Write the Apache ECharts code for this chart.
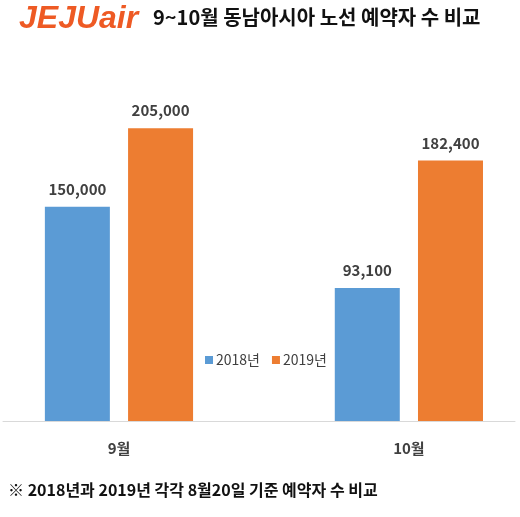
<!DOCTYPE html>
<html>
<head>
<meta charset="utf-8">
<script src="https://cdn.jsdelivr.net/npm/echarts@6/dist/echarts.min.js"></script>
<style>
  html, body { margin: 0; padding: 0; background: #fff; }
  #main { width: 520px; height: 517px; }
</style>
</head>
<body>
<div id="main"></div>
<script>
var months = ['9월', '10월'];
var seriesNames = ['2018년', '2019년'];
var data2018 = [150000, 93100];
var data2019 = [205000, 182400];

var FONT = '"Noto Sans CJK KR", "Noto Sans", sans-serif';

// month index -> [index, value] pairs for a value x axis
function pairs(values) {
    return values.map(function (v, i) { return [i, v]; });
}

var chart = echarts.init(document.getElementById('main'));

var labelStyle = {
    show: true,
    position: 'top',
    distance: 10,
    fontFamily: FONT,
    fontSize: 15,
    fontWeight: 'bold',
    color: '#404040',
    formatter: function (p) {
        return p.value[1].toLocaleString('en-US');
    }
};

var option = {
    backgroundColor: '#fff',
    animation: false,
    textStyle: { fontFamily: FONT },
    graphic: [
        {
            type: 'text',
            left: 19,
            top: 3,
            style: {
                text: 'JEJUair',
                font: 'italic 900 32px "Liberation Sans", Arial, sans-serif',
                fill: '#EE5A24'
            }
        },
        {
            type: 'text',
            left: 153,
            top: 7,
            style: {
                text: '9~10월 동남아시아 노선 예약자 수 비교',
                font: 'bold 20px ' + FONT,
                fill: '#111'
            }
        },
        {
            type: 'text',
            left: 8,
            top: 482,
            style: {
                text: '※ 2018년과 2019년 각각 8월20일 기준 예약자 수 비교',
                font: 'bold 16px ' + FONT,
                fill: '#111'
            }
        }
    ],
    legend: {
        left: 200,
        top: 348,
        itemWidth: 8,
        itemHeight: 8,
        itemGap: 12,
        icon: 'rect',
        data: seriesNames,
        textStyle: { fontFamily: FONT, fontSize: 14, color: '#404040', padding: [0, 0, 0, -2] }
    },
    grid: {
        left: 3,
        right: 5,
        top: 64,
        bottom: 96,
        containLabel: false
    },
    xAxis: {
        type: 'value',
        min: -0.4,
        max: 1.366,
        splitLine: { show: false },
        axisLine: { show: true, lineStyle: { color: '#D9D9D9', width: 1 } },
        axisTick: { show: false },
        axisLabel: {
            customValues: [0, 1],
            margin: 20,
            fontFamily: FONT,
            fontSize: 15,
            fontWeight: 'bold',
            color: '#404040',
            formatter: function (v) {
                return months[Math.round(v)];
            }
        }
    },
    yAxis: {
        type: 'value',
        min: 0,
        max: 250000,
        show: false,
        splitLine: { show: false }
    },
    series: [
        {
            name: seriesNames[0],
            type: 'bar',
            data: pairs(data2018),
            barWidth: 65,
            barGap: '28%',
            itemStyle: { color: '#5B9BD5' },
            label: labelStyle
        },
        {
            name: seriesNames[1],
            type: 'bar',
            data: pairs(data2019),
            barWidth: 65,
            itemStyle: { color: '#ED7D31' },
            label: labelStyle
        }
    ]
};

chart.setOption(option);
</script>
</body>
</html>
